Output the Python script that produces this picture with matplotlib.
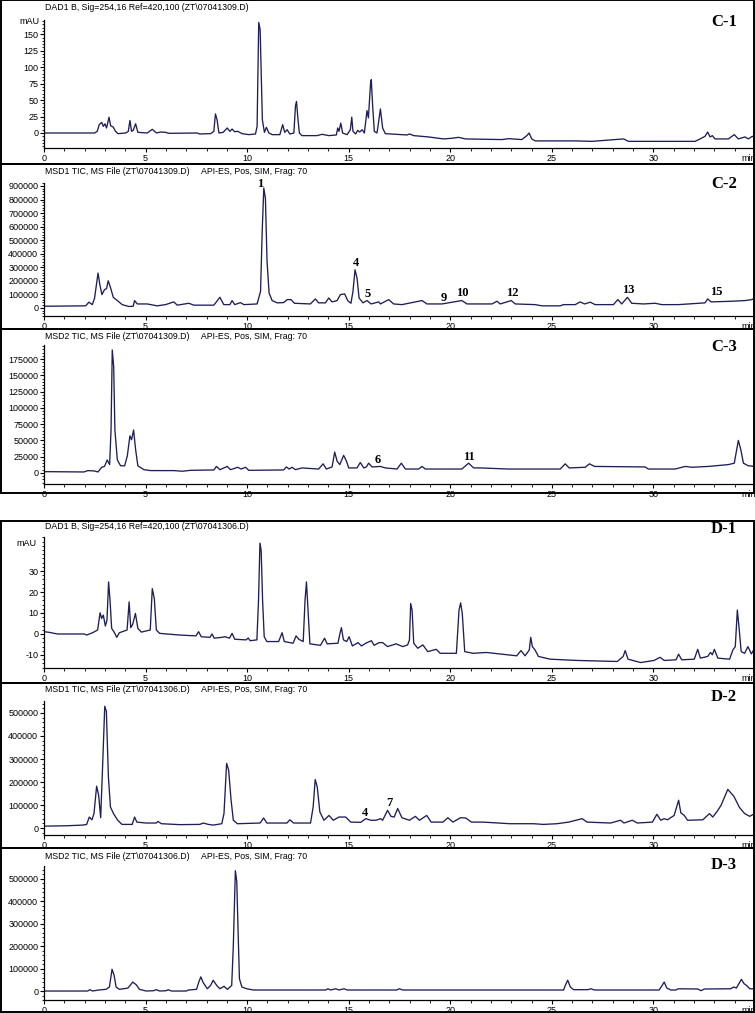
import matplotlib
matplotlib.use("Agg")
import matplotlib.pyplot as plt
from matplotlib.patches import Rectangle
from matplotlib.ticker import MultipleLocator

# ---- C-1 : DAD signal (mAU) ----
c1_t = [0, 2.49, 2.62, 2.72, 2.84, 2.92, 3.0, 3.08, 3.2, 3.28, 3.41, 3.52, 3.64, 4.02, 4.15, 4.23, 4.31, 4.39,
        4.51, 4.62, 5.08, 5.33, 5.54, 5.74, 5.98, 6.15, 7.54, 7.66, 8.2, 8.36, 8.44, 8.52, 8.61, 8.82, 9.02, 9.15,
        9.26, 9.38, 9.54, 9.75, 10.08, 10.41, 10.49, 10.57, 10.64, 10.69, 10.75, 10.85, 10.95, 11.07, 11.23, 11.61,
        11.75, 11.85, 11.97, 12.1, 12.3, 12.38, 12.43, 12.49, 12.57, 12.7, 13.44, 13.69, 14.02, 14.39, 14.46, 14.52,
        14.61, 14.7, 14.92, 15.08, 15.15, 15.21, 15.34, 15.44, 15.54, 15.66, 15.77, 15.9, 15.97, 16.07, 16.11, 16.18,
        16.26, 16.39, 16.44, 16.56, 16.67, 16.8, 17.87, 17.99, 18.2, 18.93, 19.67, 20.08, 20.41, 20.74, 22.54, 22.87,
        23.52, 23.77, 23.88, 24.01, 24.18, 26.15, 26.97, 28.53, 28.77, 32.05, 32.3, 32.54, 32.67, 32.79, 32.9, 33.03,
        33.69, 33.98, 34.18, 34.51, 34.67, 34.87, 35.0]
c1_v = [0, 0, 2.5, 12.7, 16.2, 10, 14, 7.6, 24, 11, 9, 2.5, -1, 0, 2.5, 19, 2.5, 4,
        14, 1, 0, 5.6, 0, 1.5, 1, -0.5, 0, -1.5, -1, 2.5, 29, 20, 0, 1, 7.6, 2.5,
        6, 2, 2.5, -1, -2.5, -1.5, 10, 168, 157, 94, 20, 1, 8.6, 0, -2.5, -2.5,
        12.7, 1, 5, -1.5, 0, 41.5, 48, 25, 0, -4, -4, -2, -4, -3, 7.6, 2.5,
        15, 0, -2.5, 5, 24, 2.5, -1.5, 4, 1.5, 5, 0, 34, 23, 73, 81, 40.5,
        2.5, 0, 10, 36.5, 7.6, -1, -3, -1.5, -4, -6, -9, -8, -6.6, -9, -10, -8.6,
        -10, -4, 0, -9, -12, -12, -12.7, -9, -12.7, -12.7, -9, -5, 1.5, -6, -4, -9,
        -9, -2.5, -9, -6, -9, -5, -7]

# ---- C-2 : MSD1 TIC ----
c2_t = [0, 2.05, 2.21, 2.38, 2.49, 2.66, 2.75, 2.85, 2.98, 3.08, 3.16, 3.28, 3.41, 3.61, 3.85, 4.18, 4.39, 4.46,
        4.59, 5.08, 5.57, 5.98, 6.39, 6.56, 7.13, 7.38, 8.36, 8.66, 8.85, 9.15, 9.26, 9.39, 9.67, 9.84, 10.49, 10.66,
        10.74, 10.82, 10.9, 10.98, 11.08, 11.23, 11.48, 11.8, 11.97, 12.16, 12.33, 13.11, 13.36, 13.52, 13.85, 14.02,
        14.18, 14.43, 14.59, 14.8, 14.95, 15.11, 15.21, 15.31, 15.41, 15.51, 15.7, 15.9, 16.1, 16.48, 16.56, 16.97,
        17.21, 17.62, 18.61, 18.85, 19.59, 20.57, 20.82, 22.05, 22.3, 22.46, 23.0, 23.2, 24.18, 24.51, 25.41, 25.57,
        26.15, 26.39, 26.61, 26.89, 27.13, 28.03, 28.25, 28.44, 28.72, 28.93, 29.51, 30.08, 30.41, 31.23, 32.54,
        32.67, 32.84, 33.85, 34.51, 34.84, 35.0]
c2_v = [12000, 15000, 42000, 24000, 73000, 257000, 171000, 98000, 135000, 142000, 200000, 147000, 78000, 54000,
        24000, 10000, 12000, 54000, 29000, 29000, 15000, 24000, 44000, 20000, 34000, 20000, 20000, 78000, 24000,
        24000, 54000, 24000, 39000, 24000, 29000, 122000, 563000, 885000, 807000, 342000, 110000, 54000, 37000,
        39000, 61000, 61000, 34000, 29000, 66000, 37000, 37000, 73000, 44000, 54000, 98000, 103000, 54000, 34000,
        122000, 281000, 220000, 73000, 37000, 54000, 29000, 44000, 29000, 61000, 29000, 24000, 54000, 29000, 29000,
        54000, 29000, 29000, 49000, 29000, 54000, 29000, 24000, 15000, 15000, 24000, 24000, 44000, 29000, 42000,
        24000, 24000, 61000, 29000, 78000, 34000, 29000, 34000, 24000, 24000, 37000, 66000, 44000, 49000, 54000,
        61000, 73000]

# ---- C-3 : MSD2 TIC ----
c3_t = [0, 1.97, 2.16, 2.49, 2.66, 2.84, 2.98, 3.11, 3.23, 3.3, 3.36, 3.43, 3.49, 3.61, 3.77, 3.97, 4.1, 4.23,
        4.31, 4.41, 4.51, 4.62, 4.92, 5.25, 6.39, 6.8, 7.21, 8.36, 8.49, 8.66, 9.02, 9.18, 9.54, 9.7, 9.92, 10.08,
        11.8, 11.93, 12.07, 12.21, 12.38, 12.7, 13.52, 13.74, 13.9, 14.18, 14.31, 14.43, 14.56, 14.75, 14.89, 15.0,
        15.41, 15.57, 15.74, 15.87, 15.98, 16.15, 16.56, 16.8, 17.38, 17.59, 17.79, 18.44, 18.61, 18.77, 20.57,
        20.9, 21.15, 21.48, 22.87, 25.41, 25.66, 25.85, 26.64, 26.85, 27.1, 29.59, 29.75, 31.07, 31.56, 31.89,
        32.7, 33.69, 33.98, 34.1, 34.18, 34.3, 34.43, 34.67, 35.0]
c3_v = [2000, 1500, 3600, 3000, 1500, 8700, 10000, 20000, 12800, 66000, 189000, 164000, 66000, 20000, 11000,
        11000, 26000, 57000, 51000, 66000, 36000, 11000, 5000, 3600, 3600, 2600, 4000, 4600, 10000, 5000, 10000,
        5000, 8700, 6000, 8700, 4000, 4600, 9200, 6000, 8700, 5000, 7700, 6000, 14000, 6000, 9200, 32000, 18000,
        12800, 27000, 18000, 7700, 7700, 16000, 7700, 9200, 15000, 9200, 10000, 7700, 6000, 15000, 6000, 6000,
        10000, 6000, 6000, 15000, 7700, 7700, 6000, 6000, 14000, 7700, 8700, 14000, 10000, 9200, 6000, 6000,
        10000, 8700, 10000, 12800, 15000, 36000, 50000, 36000, 15000, 11000, 10000]

# ---- D-1 : DAD signal (mAU) ----
d1_t = [0, 0.25, 0.66, 1.98, 2.1, 2.39, 2.64, 2.76, 2.84, 2.92, 3.02, 3.1, 3.18, 3.25, 3.33, 3.47, 3.58, 3.71,
        4.09, 4.19, 4.27, 4.37, 4.5, 4.62, 4.79, 5.23, 5.33, 5.43, 5.53, 5.69, 6.68, 7.48, 7.61, 7.74, 8.17, 8.27,
        8.38, 8.75, 8.91, 9.13, 9.26, 9.39, 9.95, 10.05, 10.15, 10.48, 10.56, 10.63, 10.69, 10.76, 10.84, 10.97,
        11.55, 11.72, 11.83, 12.26, 12.41, 12.54, 12.76, 12.85, 12.92, 12.99, 13.09, 13.61, 13.81, 13.94, 14.47,
        14.57, 14.64, 14.74, 14.9, 15.02, 15.18, 15.46, 15.63, 15.84, 16.12, 16.25, 16.5, 16.67, 16.91, 17.33,
        17.66, 17.9, 17.99, 18.05, 18.12, 18.2, 18.4, 18.65, 18.89, 19.31, 19.5, 20.3, 20.43, 20.51, 20.59, 20.71,
        21.12, 21.78, 22.44, 23.27, 23.48, 23.68, 23.89, 23.96, 24.04, 24.17, 24.34, 24.92, 26.24, 28.22, 28.51,
        28.61, 28.75, 29.37, 30.03, 30.33, 30.53, 31.11, 31.24, 31.39, 32.01, 32.18, 32.31, 32.67, 32.81, 32.9,
        33.0, 33.17, 33.75, 33.91, 34.03, 34.13, 34.21, 34.32, 34.49, 34.65, 34.82, 34.98, 35.15]
d1_v = [1.1, 0.8, 0, 0, -0.5, 0.6, 1.9, 10.1, 7.4, 9, 3.8, 6.6, 24.8, 16.1, 2.7, 0.6, -1.6, 0.6,
        1.9, 15.3, 3, 4.7, 9.8, 2.7, 0.9, 1.9, 21.6, 16.9, 1.9, 0.3, -0.5, -0.9, 1.1, -1.3, -1.6, 0,
        -2, -1.6, -1.3, -2, 0.3, -2.5, -2.8, -1.9, -3.2, -2.8, 16.1, 43.3, 39.8, 16.1, -1.3, -3.6,
        -3.6, 0.6, -3.6, -4.4, -0.9, -2.5, -3.6, 16.1, 24.8, 12.9, -4.7, -5.4, -2, -4.7, -4.4,
        0.3, 3, -2.8, -3.6, -1.3, -5.7, -4.1, -5.7, -4.4, -3.2, -5.4, -4.1, -4.1, -6, -4.7,
        -6, -5.2, -2.8, 14.5, 11.4, -4.4, -6.8, -5.2, -8.4, -7.3, -9.2, -9.2, 11.4, 14.8, 9.8, -8.4,
        -9.2, -8.8, -9.5, -10.4, -7.9, -10.4, -7.6, -1.6, -6, -7.6, -10.7, -12, -12.6, -13.1, -10.7,
        -7.9, -12, -13.6, -12.6, -11.1, -12.6, -12.3, -9.6, -12.3, -12, -7.3, -11.5, -10.7, -8.8, -9.9,
        -7.3, -11.5, -12, -7.6, -6, 11.4, 3.5, -8.4, -9.2, -6, -9.5, -6.8, -7.6]

# ---- D-2 : MSD1 TIC ----
d2_t = [0.08, 1.07, 1.9, 2.1, 2.23, 2.36, 2.46, 2.59, 2.69, 2.79, 2.89, 2.99, 3.07, 3.17, 3.27, 3.42, 3.63, 3.84,
        4.34, 4.46, 4.57, 5.03, 5.53, 5.61, 5.78, 6.68, 7.67, 7.84, 8.09, 8.33, 8.75, 8.86, 8.99, 9.09, 9.21, 9.32,
        9.52, 10.64, 10.81, 10.97, 11.96, 12.1, 12.29, 13.12, 13.25, 13.35, 13.45, 13.58, 13.78, 14.03, 14.24,
        14.52, 14.85, 15.1, 15.59, 15.84, 16.09, 16.34, 16.58, 16.67, 16.91, 17.08, 17.24, 17.41, 17.62, 17.99,
        18.28, 18.48, 18.84, 19.06, 19.64, 19.88, 20.13, 20.5, 20.76, 21.04, 21.62, 22.94, 24.09, 24.59, 25.25,
        25.83, 26.49, 26.73, 27.89, 28.38, 28.55, 28.96, 29.21, 29.95, 30.17, 30.36, 30.53, 30.69, 31.02, 31.24,
        31.35, 31.52, 31.68, 32.43, 32.76, 32.92, 33.14, 33.33, 33.66, 33.96, 34.24, 34.49, 34.74, 34.98, 35.15]
d2_v = [8700, 10000, 13000, 16000, 48000, 36000, 63000, 182000, 143000, 45000, 281000, 529000, 507000, 223000,
        92000, 63000, 34000, 16000, 16000, 48000, 26000, 22000, 22000, 29000, 19000, 15000, 16000, 22000, 16000,
        13000, 19000, 63000, 281000, 252000, 121000, 34000, 19000, 22000, 44000, 22000, 22000, 36000, 22000,
        22000, 92000, 211000, 179000, 70000, 34000, 55000, 34000, 48000, 48000, 26000, 25000, 41000, 34000,
        34000, 41000, 34000, 77000, 51000, 48000, 85000, 45000, 34000, 51000, 34000, 55000, 26000, 26000, 45000,
        26000, 45000, 44000, 26000, 26000, 19000, 19000, 16000, 19000, 26000, 41000, 26000, 22000, 34000, 22000,
        34000, 22000, 26000, 60000, 34000, 41000, 36000, 55000, 121000, 66000, 55000, 34000, 36000, 63000, 48000,
        73000, 99000, 168000, 138000, 89000, 63000, 51000, 63000, 70000]

# ---- D-3 : MSD2 TIC ----
d3_t = [0.08, 2.15, 2.26, 2.39, 2.69, 3.05, 3.22, 3.35, 3.45, 3.55, 3.71, 4.13, 4.37, 4.54, 4.7, 5.03, 5.4, 5.53,
        5.69, 6.02, 6.11, 6.27, 7.01, 7.11, 7.51, 7.62, 7.72, 7.84, 8.04, 8.2, 8.33, 8.5, 8.66, 8.86, 9.03, 9.24,
        9.32, 9.42, 9.49, 9.55, 9.62, 9.74, 9.98, 10.31, 13.86, 13.98, 14.11, 14.36, 14.52, 14.77, 14.93, 16.58,
        17.36, 17.49, 17.66, 25.58, 25.66, 25.78, 25.91, 26.07, 26.77, 26.93, 27.1, 30.28, 30.41, 30.53, 30.66,
        30.86, 31.11, 31.22, 32.18, 32.34, 32.51, 33.8, 33.96, 34.08, 34.33, 34.46, 34.62, 34.74, 35.15]
d3_v = [0, 0, 6000, 0, 4500, 7500, 18000, 97000, 70000, 18000, 7500, 13000, 40000, 28000, 7500, 0, 1500, 6000,
        0, 1500, 6000, 0, 0, 4500, 7500, 40000, 63000, 37000, 10000, 25000, 48000, 25000, 10000, 21000, 7500,
        25000, 204000, 536000, 488000, 279000, 55000, 18000, 10000, 4500, 4500, 10000, 4500, 10000, 4500, 10000,
        4500, 4500, 4500, 10000, 4500, 4500, 25000, 48000, 18000, 6000, 6000, 10000, 4500, 4500, 22000, 40000,
        13000, 4500, 4500, 10000, 9000, 1500, 9000, 10000, 18000, 13000, 52000, 33000, 22000, 10000, 10000]

# y tick values for each panel
c1_yticks = [0, 25, 50, 75, 100, 125, 150]
c2_yticks = [0, 100000, 200000, 300000, 400000, 500000, 600000, 700000, 800000, 900000]
c3_yticks = [0, 25000, 50000, 75000, 100000, 125000, 150000, 175000]
d1_yticks = [-10, 0, 10, 20, 30]
d2_yticks = [0, 100000, 200000, 300000, 400000, 500000]
d3_yticks = [0, 100000, 200000, 300000, 400000, 500000]
x_ticks = [0, 5, 10, 15, 20, 25, 30]

# peak numbers
c2_peaks = ["1", "4", "5", "9", "10", "12", "13", "15"]
c2_peak_t = [10.62, 15.38, 15.95, 19.70, 20.61, 23.07, 28.77, 33.11]
c2_peak_v = [925000, 342000, 117000, 86000, 122000, 122000, 142000, 127000]
c3_peaks = ["6", "11"]
c3_peak_t = [16.44, 20.9]
c3_peak_v = [21500, 26600]
d2_peaks = ["4", "7"]
d2_peak_t = [15.81, 17.0]
d2_peak_v = [70000, 114000]

W, H = 755, 1013
fig = plt.figure(figsize=(W / 100, H / 100), dpi=100)
line_col = "#1e1e5a"
sans = "Liberation Sans"
serif = "Liberation Serif"

title_c1 = "DAD1 B, Sig=254,16 Ref=420,100 (ZT\\07041309.D)"
title_c2 = "MSD1 TIC, MS File (ZT\\07041309.D)     API-ES, Pos, SIM, Frag: 70"
title_c3 = "MSD2 TIC, MS File (ZT\\07041309.D)     API-ES, Pos, SIM, Frag: 70"
title_d1 = "DAD1 B, Sig=254,16 Ref=420,100 (ZT\\07041306.D)"
title_d2 = "MSD1 TIC, MS File (ZT\\07041306.D)     API-ES, Pos, SIM, Frag: 70"
title_d3 = "MSD2 TIC, MS File (ZT\\07041306.D)     API-ES, Pos, SIM, Frag: 70"

# panel layout in pixels: frame top/bottom, axes top/bottom, title y, tag baseline y
panels = [
    (0, 164, 20, 148, 7, 26, (-22.8, 171.7), c1_yticks, 5, c1_t, c1_v, title_c1, "C-1"),
    (164, 329, 183, 316, 172, 188, (-60000, 922000), c2_yticks, 20000, c2_t, c2_v, title_c2, "C-2"),
    (329, 493, 345, 484, 336, 351, (-17000, 196600), c3_yticks, 5000, c3_t, c3_v, title_c3, "C-3"),
    (521, 683, 537, 668, 526, 533, (-16.2, 46.2), d1_yticks, 2, d1_t, d1_v, title_d1, "D-1"),
    (683, 848, 701, 835, 689, 701, (-30000, 552000), d2_yticks, 20000, d2_t, d2_v, title_d2, "D-2"),
    (848, 1012, 866, 1000, 856, 869, (-40000, 557000), d3_yticks, 20000, d3_t, d3_v, title_d3, "D-3"),
]

axes = []
for ftop, fbot, atop, abot, ty, tagy, ylim, yticks, minor, t, v, title, tag in panels:
    fig.add_artist(Rectangle((0.7 / W, 1 - fbot / H), (W - 1.6) / W, (fbot - ftop) / H,
                             transform=fig.transFigure, fill=False, lw=1.4, ec="black"))
    ax = fig.add_axes([44 / W, 1 - abot / H, (W - 44) / W, (abot - atop) / H])
    ax.plot(t, v, color=line_col, lw=0.95)
    ax.set_xlim(0, 35.0)
    ax.set_ylim(*ylim)
    ax.set_xticks(x_ticks)
    ax.set_xticklabels([str(x) for x in x_ticks])
    ax.xaxis.set_minor_locator(MultipleLocator(1))
    ax.set_yticks(yticks)
    ax.set_yticklabels([str(y) for y in yticks])
    ax.yaxis.set_minor_locator(MultipleLocator(minor))
    ax.tick_params(which="major", length=3, width=0.8, pad=1.2, labelsize=6.5)
    ax.tick_params(which="minor", length=1.8, width=0.6)
    for lab in ax.get_xticklabels() + ax.get_yticklabels():
        lab.set_fontfamily(sans)
    for s in ["top", "right"]:
        ax.spines[s].set_visible(False)
    ax.spines["left"].set_linewidth(0.9)
    ax.spines["bottom"].set_linewidth(0.9)
    ax.patch.set_alpha(0)
    ax.annotate("min", xy=(34.35, 0), xycoords=("data", "axes fraction"), xytext=(0, -4.2),
                textcoords="offset points", ha="left", va="top", fontsize=6.5, family=sans,
                annotation_clip=False)
    fig.text(45 / W, 1 - ty / H, title, ha="left", va="center", fontsize=6.3, family=sans)
    fig.text(724 / W, 1 - tagy / H, tag, ha="center", va="baseline", fontsize=12,
             family=serif, fontweight="bold")
    axes.append(ax)

# mAU unit labels on the DAD panels
fig.text(29 / W, 1 - 22 / H, "mAU", ha="center", va="center", fontsize=6.5, family=sans)
fig.text(26 / W, 1 - 543 / H, "mAU", ha="center", va="center", fontsize=6.5, family=sans)

for ax, names, pt, pv in [(axes[1], c2_peaks, c2_peak_t, c2_peak_v),
                          (axes[2], c3_peaks, c3_peak_t, c3_peak_v),
                          (axes[4], d2_peaks, d2_peak_t, d2_peak_v)]:
    for n, x, y in zip(names, pt, pv):
        ax.text(x, y, n, ha="center", va="center_baseline", fontsize=9, family=serif,
                fontweight="bold", clip_on=False)

fig.savefig("out.png", dpi=100)
